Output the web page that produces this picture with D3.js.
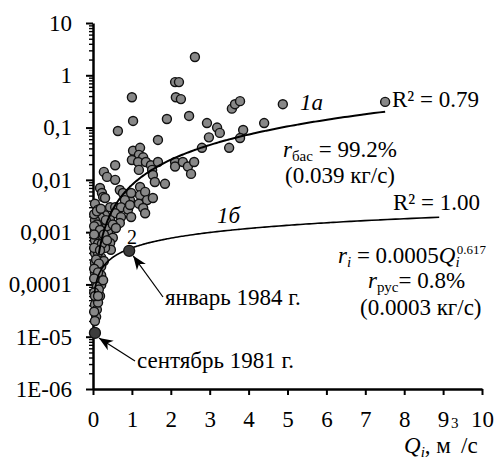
<!DOCTYPE html>
<html lang="ru">
<head>
    <meta charset="UTF-8">
    <title>r(Q)</title>
    <script src="https://d3js.org/d3.v7.min.js"></script>
    <style>
        html, body { margin: 0; background: #fff; }
        svg text { font-family: "Liberation Serif", "Times New Roman", Times, serif !important; fill: #000; }
    </style>
</head>
<body>
    <svg id="svg"></svg>
    <script>
        // measured points: discharge Q (m3/s) and suspended load r (kg/s)
        const qValues = [
            2.62, 2.11, 2.21, 2.13, 2.26, 1.00, 1.03, 0.64, 1.90, 2.47, 2.93, 3.19, 3.26, 2.98, 3.57, 3.65, 3.78, 3.86, 3.78, 3.50, 2.80, 1.67, 4.40, 4.88, 7.51,
            1.03, 1.21, 1.18, 1.29, 1.00, 1.16, 1.36, 1.49, 1.67, 1.18, 1.52, 1.54, 1.59,
            2.11, 2.11, 2.31, 2.44, 2.60, 2.52, 1.85, 0.57, 0.28, 0.36, 0.57,
            0.18, 0.23, 0.26, 0.69, 0.77, 0.87, 0.95, 0.98, 1.21, 1.21, 1.34, 0.82, 1.18, 1.39, 1.54,
            0.05, 0.31, 0.44, 0.57, 0.72, 0.90, 1.29, 1.34, 0.95,
            0.13, 0.31, 0.57, 0.72, 0.98, 0.44, 0.69, 0.26, 0.18,
            0.05, 0.21, 0.39, 0.51, 0.26, 0.44, 0.46, 0.13, 0.05, 0.21, 0.05, 0.21, 0.05, 0.21, 0.08, 0.21, 0.08, 0.18,
            0.08, 0.05, 0.10, 0.08, 0.13,
            0.08, 0.15, 0.26, 0.36, 0.05, 0.10, 0.15, 0.31, 0.13, 0.28, 0.10, 0.15, 0.26, 0.05, 0.10, 0.33, 0.51, 0.59,
            0.03, 0.10, 0.20, 0.03, 0.18, 0.28, 0.03, 0.13, 0.23, 0.36, 0.03, 0.18, 0.08, 0.15, 0.03, 0.13, 0.03, 0.10, 0.15, 0.03, 0.05, 0.13, 0.03, 0.05
        ];
        const rValues = [
            2.24, 0.74, 0.74, 0.38, 0.35, 0.38, 0.134, 0.086, 0.146, 0.167, 0.122, 0.10, 0.079, 0.065, 0.23, 0.28, 0.32, 0.090, 0.063, 0.041, 0.041, 0.058, 0.122, 0.28, 0.31,
            0.036, 0.041, 0.030, 0.027, 0.024, 0.022, 0.022, 0.019, 0.022, 0.0155, 0.0155, 0.0124, 0.0091,
            0.022, 0.018, 0.022, 0.018, 0.022, 0.013, 0.0084, 0.019, 0.0142, 0.0114, 0.0100,
            0.0070, 0.0056, 0.0047, 0.0064, 0.0056, 0.0047, 0.0041, 0.0056, 0.0073, 0.0051, 0.0059, 0.0041, 0.0035, 0.0041, 0.0045,
            0.0035, 0.0045, 0.0030, 0.0030, 0.0030, 0.0027, 0.0029, 0.0023, 0.0033,
            0.0027, 0.0021, 0.0023, 0.00195, 0.00195, 0.0017, 0.0015, 0.00157, 0.00195,
            0.0011, 0.00091, 0.00097, 0.00078, 0.00065, 0.00062, 0.00046, 0.00052, 0.00040, 0.00033, 0.00026, 0.00022, 0.00017, 0.00015, 0.00011, 0.000098, 0.000073, 0.00006,
            0.000051, 0.000041, 0.000033, 0.000024, 0.000045,
            0.0015, 0.0013, 0.0012, 0.0013, 0.0017, 0.0008, 0.0007, 0.0005, 0.0004, 0.00028, 0.00019, 0.00013, 0.00012, 0.0007, 0.0014, 0.0017, 0.0014, 0.0012,
            0.0022, 0.0025, 0.0028, 0.0013, 0.0011, 0.0009, 0.0009, 0.0006, 0.0006, 0.0007, 0.0005, 0.00045, 0.0003, 0.00025, 0.0002, 0.00017, 0.00013, 0.00009, 0.00008, 0.00007, 0.00006, 0.00006, 0.00003, 0.00002
        ];
        // marked dates: September 1981, January 1984
        const markQ = [0.05, 0.93];
        const markR = [0.0000118, 0.00044];

        // power fits r = a * Q^b
        const fitA = { a: 0.008, b: 1.6, q0: 0.15, q1: 7.51 };
        const fitB = { a: 0.0005, b: 0.617, q0: 0.04, q1: 8.9 };

        const xTicks = [0, 1, 2, 3, 4, 5, 6, 7, 8, 9, 10];
        const yTicks = [1e-6, 1e-5, 1e-4, 1e-3, 1e-2, 1e-1, 1, 10];
        const yTickLabels = ['1E-06', '1E-05', '0,0001', '0,001', '0,01', '0,1', '1', '10'];

        const width = 504, height = 460;
        const margin = { top: 23, left: 93, right: 22, bottom: 71 };
        const fs = 23;
        const svg = d3.select('#svg').attr('width', width).attr('height', height);

        const x = d3.scaleLinear().domain([0, 10]).range([margin.left, width - margin.right]);
        const y = d3.scaleLog().domain([1e-6, 10]).range([height - margin.bottom, margin.top]);

        // minor ticks of the log axis
        const minor = [];
        for (let e = -6; e < 1; e++) {
            for (let k = 2; k <= 9; k++) minor.push(k * Math.pow(10, e));
        }
        svg.append('g')
            .attr('transform', `translate(${margin.left},0)`)
            .call(d3.axisLeft(y).tickValues(minor).tickSize(4).tickFormat(''))
            .call(g => g.select('.domain').remove())
            .selectAll('line').attr('stroke-width', 1.4);

        const yAxis = svg.append('g')
            .attr('transform', `translate(${margin.left},0)`)
            .call(d3.axisLeft(y).tickValues(yTicks).tickSize(7).tickSizeOuter(0)
                .tickFormat((d, i) => yTickLabels[i]));
        yAxis.select('.domain').attr('stroke-width', 2.5);
        yAxis.selectAll('line').attr('stroke-width', 2);
        yAxis.selectAll('text').attr('font-size', fs).attr('x', -21);

        const xAxis = svg.append('g')
            .attr('transform', `translate(0,${height - margin.bottom})`)
            .call(d3.axisBottom(x).tickValues(xTicks).tickSize(6).tickSizeOuter(0).tickFormat(d3.format('d')));
        xAxis.select('.domain').attr('stroke-width', 2.5);
        xAxis.selectAll('line').attr('stroke-width', 2);
        xAxis.selectAll('text').attr('font-size', fs).attr('y', 22);
        svg.selectAll('g').attr('font-family', null);

        // fit curves
        const fitLine = d3.line().x(d => x(d[0])).y(d => y(d[1])).curve(d3.curveMonotoneX);
        const fitPoints = f => d3.range(0, 201).map(i => {
            const q = f.q0 * Math.pow(f.q1 / f.q0, i / 200);
            return [q, f.a * Math.pow(q, f.b)];
        });

        // points
        const pts = qValues.map((q, i) => ({ q: q, r: rValues[i] }));
        svg.append('g').selectAll('circle').data(pts).join('circle')
            .attr('cx', d => x(d.q))
            .attr('cy', d => y(d.r))
            .attr('r', 4.5)
            .attr('fill', '#888')
            .attr('stroke', '#111')
            .attr('stroke-width', 1.4);

        svg.append('path').datum(fitPoints(fitA)).attr('d', fitLine)
            .attr('fill', 'none').attr('stroke', '#000').attr('stroke-width', 2);
        svg.append('path').datum(fitPoints(fitB)).attr('d', fitLine)
            .attr('fill', 'none').attr('stroke', '#000').attr('stroke-width', 1.6);

        svg.append('g').selectAll('circle').data(markQ).join('circle')
            .attr('cx', d => x(d))
            .attr('cy', (d, i) => y(markR[i]))
            .attr('r', 5.5)
            .attr('fill', '#3c3c3c')
            .attr('stroke', '#111')
            .attr('stroke-width', 1.3);

        // arrows
        svg.append('defs').append('marker')
            .attr('id', 'arr').attr('viewBox', '0 -6 14 12')
            .attr('refX', 14).attr('refY', 0)
            .attr('markerWidth', 14).attr('markerHeight', 12)
            .attr('markerUnits', 'userSpaceOnUse')
            .attr('orient', 'auto')
            .append('path').attr('d', 'M0,-5.5L14,0L0,5.5L4,0Z').attr('fill', '#000');

        const arrow = (x1, y1, q, r) => svg.append('line')
            .attr('x1', x1).attr('y1', y1)
            .attr('x2', x(q) + 4).attr('y2', y(r) + 5)
            .attr('stroke', '#000').attr('stroke-width', 1.2)
            .attr('marker-end', 'url(#arr)');
        arrow(163, 297, markQ[1], markR[1]);
        arrow(135, 361, markQ[0], markR[0]);

        // labels
        const label = (tx, ty, size) => svg.append('text').attr('x', tx).attr('y', ty).attr('font-size', size || fs);

        label(165, 305).text('январь 1984 г.');
        label(137, 368).text('сентябрь 1981 г.');
        label(127, 244, 20).text('2');
        label(300, 110).attr('font-style', 'italic').text('1а');
        label(217, 223).attr('font-style', 'italic').text('1б');
        label(392, 107).text('R² = 0.79');
        label(393, 210).text('R² = 1.00');

        const t1 = label(283, 157);
        t1.append('tspan').attr('font-style', 'italic').text('r');
        t1.append('tspan').attr('font-size', 15).attr('dy', 4).text('бас');
        t1.append('tspan').attr('dy', -4).text(' = 99.2%');
        label(285, 183).text('(0.039 кг/с)');

        const t2 = label(338, 263);
        t2.append('tspan').attr('font-style', 'italic').text('r');
        t2.append('tspan').attr('font-style', 'italic').attr('font-size', 15).attr('dy', 4).text('i');
        t2.append('tspan').attr('dy', -4).text(' = 0.0005');
        t2.append('tspan').attr('font-style', 'italic').text('Q');
        t2.append('tspan').attr('font-style', 'italic').attr('font-size', 15).attr('dy', 4).text('i');
        t2.append('tspan').attr('font-size', 13).attr('dx', -3).attr('dy', -13).text('0.617');

        const t3 = label(368, 288);
        t3.append('tspan').attr('font-style', 'italic').text('r');
        t3.append('tspan').attr('font-size', 15).attr('dy', 4).text('рус');
        t3.append('tspan').attr('dy', -4).text('= 0.8%');
        label(360, 315).text('(0.0003 кг/с)');

        // x axis title
        const t4 = label(404, 453);
        t4.append('tspan').attr('font-style', 'italic').text('Q');
        t4.append('tspan').attr('font-style', 'italic').attr('font-size', 15).attr('dy', 4).text('i');
        t4.append('tspan').attr('dy', -4).text(', м');
        label(451, 428, 15).text('3');
        label(461, 453).text('/с');
    </script>
</body>
</html>
